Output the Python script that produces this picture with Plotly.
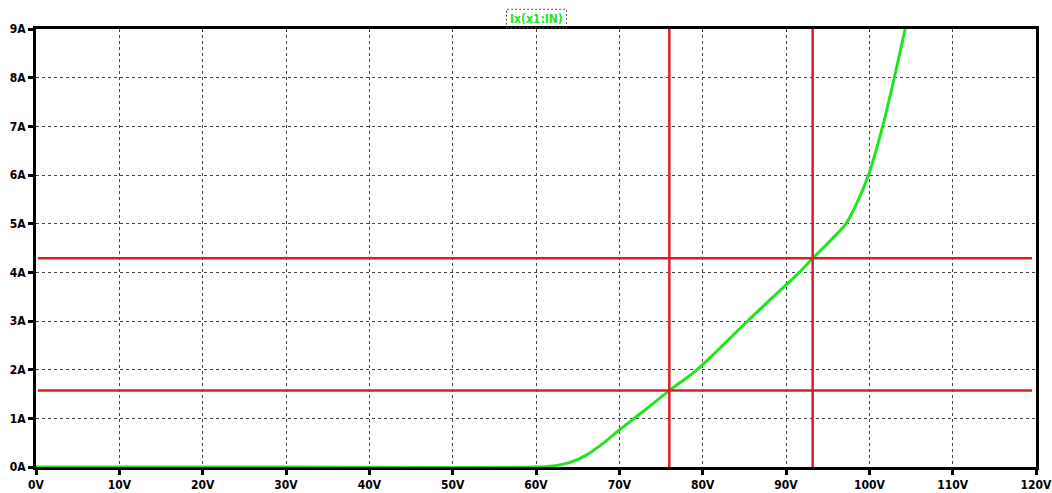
import plotly.graph_objects as go

# Curve data
voltage = [0, 30, 60, 62, 64, 66, 68, 70, 73, 76, 79.2, 82, 85.4, 88.5, 91.6, 93.2, 94.4, 95.6, 97.2, 98.5, 99.9, 101.6, 103.0, 104.3]
current = [0, 0, 0, 0.02, 0.09, 0.24, 0.48, 0.76, 1.16, 1.57, 1.98, 2.43, 3.0, 3.5, 4.0, 4.29, 4.49, 4.70, 5.0, 5.42, 6.0, 7.0, 8.0, 9.0]

# Cursor positions
cursor_v = [76.0, 93.2]
cursor_i = [1.57, 4.29]

x_ticks = list(range(0, 121, 10))
x_labels = [f"{v}V" for v in x_ticks]
y_ticks = list(range(0, 10))
y_labels = [f"{a}A" for a in y_ticks]

title_text = "Ix(x1:IN)"

green = "#1ee61e"
red = "#dc1e28"

fig = go.Figure()
fig.add_trace(go.Scatter(x=voltage, y=current, mode="lines",
                         line=dict(color=green, width=3, shape="spline", smoothing=1.0),
                         showlegend=False, hoverinfo="skip"))

shapes = []
for v in cursor_v:
    shapes.append(dict(type="line", xref="x", yref="paper", x0=v, x1=v, y0=0, y1=1,
                       line=dict(color=red, width=2.5)))
for a in cursor_i:
    shapes.append(dict(type="line", xref="paper", yref="y", x0=0.002, x1=0.996, y0=a, y1=a,
                       line=dict(color=red, width=2.5)))
# dashed box around title
shapes.append(dict(type="rect", xref="paper", yref="paper", x0=0.4705, x1=0.5305, y0=1.0025, y1=1.045,
                   line=dict(color="#555555", width=1, dash="2px,2px")))

tickfont = dict(family="DejaVu Sans Condensed", size=12, color="black", weight="bold")

fig.update_layout(
    width=1052, height=493,
    margin=dict(l=36, r=16, t=29, b=26, autoexpand=False),
    paper_bgcolor="white", plot_bgcolor="white",
    shapes=shapes,
    annotations=[dict(text=title_text, xref="paper", yref="paper", x=0.5, y=1.023,
                      xanchor="center", yanchor="middle", showarrow=False,
                      font=dict(family="DejaVu Sans Condensed", size=12, color=green, weight="bold"))],
    xaxis=dict(range=[0, 120], tickvals=x_ticks, ticktext=x_labels,
               showgrid=True, gridcolor="#444444", griddash="3px,3px", gridwidth=1,
               showline=True, linecolor="black", linewidth=3, mirror=True,
               ticks="outside", ticklen=5, tickwidth=2.5, tickcolor="black",
               tickfont=tickfont, zeroline=False, automargin=False,
               ticklabeloverflow="allow"),
    yaxis=dict(range=[0, 9], tickvals=y_ticks, ticktext=y_labels,
               showgrid=True, gridcolor="#444444", griddash="3px,3px", gridwidth=1,
               showline=True, linecolor="black", linewidth=3, mirror=True,
               ticks="outside", ticklen=5, tickwidth=2.5, tickcolor="black",
               tickfont=tickfont, zeroline=False, ticklabelstandoff=0,
               automargin=False),
)

fig.write_html("out.html")
